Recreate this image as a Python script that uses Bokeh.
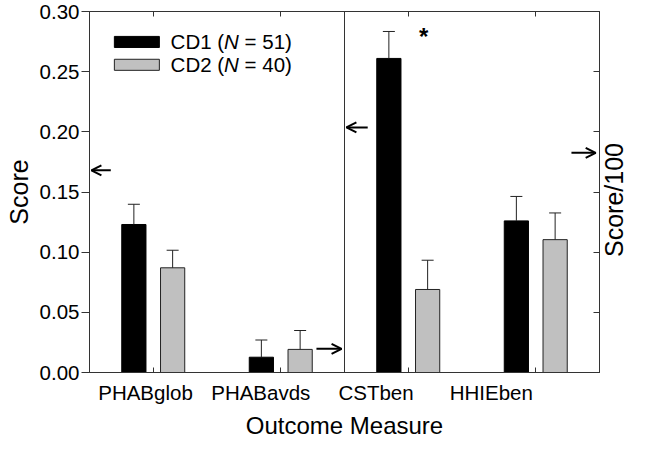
import numpy as np
from bokeh.plotting import figure
from bokeh.models import (Range1d, LinearAxis, FixedTicker, ColumnDataSource, Whisker, TeeHead,
                          Arrow, OpenHead, Span, NumeralTickFormatter, CustomJSTickFormatter)
from bokeh.core.properties import value
from bokeh.embed import file_html
from bokeh.resources import INLINE

# ---------------- data ----------------
categories = ["PHABglob", "PHABavds", "CSTben", "HHIEben"]
cat_pos = [1, 2, 3, 4]
series_names = ["CD1", "CD2"]
series_n = [51, 40]
cd1_mean = [0.123, 0.0127, 0.261, 0.126]
cd1_err = [0.0168, 0.0143, 0.0224, 0.0203]
cd2_mean = [0.087, 0.0192, 0.069, 0.1104]
cd2_err = [0.0146, 0.0157, 0.0243, 0.0222]
y_ticks = [0.0, 0.05, 0.10, 0.15, 0.20, 0.25, 0.30]
right_title = "Score/100"
right_title_y = 0.096

# reference-value arrows: level, start x, end x
arrow_level = [0.168, 0.0197, 0.2037, 0.1826]
arrow_x_start = [0.667, 2.28, 2.682, 4.28]
arrow_x_end = [0.515, 2.477, 2.515, 4.47]

# significance marker
star_x = [3.12]
star_y = [0.279]
star_text = ["*"]

# ---------------- style ----------------
FONT = "Liberation Sans"
AX = "#333333"
GRAY = "#c0c0c0"
BAR_W = 0.19
OFF = 0.152

x1 = [c - OFF for c in cat_pos]
x2 = [c + OFF for c in cat_pos]
src = ColumnDataSource(dict(
    x1=x1, x2=x2,
    cd1=cd1_mean, cd1_up=[m + e for m, e in zip(cd1_mean, cd1_err)],
    cd2=cd2_mean, cd2_up=[m + e for m, e in zip(cd2_mean, cd2_err)],
))

p = figure(width=645, height=441, x_range=Range1d(0.5, 4.5), y_range=Range1d(0, 0.30),
           output_backend="svg", toolbar_location=None, x_axis_location=None,
           y_axis_location="left",
           min_border_left=89, min_border_right=0, min_border_top=11, min_border_bottom=0)
p.grid.visible = False
p.outline_line_color = AX
p.outline_line_width = 1
p.background_fill_color = "white"
p.border_fill_color = "white"

# left axis
ya = p.yaxis[0]
ya.ticker = FixedTicker(ticks=y_ticks)
ya.formatter = NumeralTickFormatter(format="0.00")
ya.major_tick_out = 8
ya.major_tick_in = 0
ya.minor_tick_line_color = None
ya.major_tick_line_color = AX
ya.axis_line_color = AX
ya.major_label_text_font = FONT
ya.major_label_text_font_size = "20.5px"
ya.major_label_text_color = "black"
ya.major_label_standoff = 2
ya.axis_label = "Score"
ya.axis_label_text_font = FONT
ya.axis_label_text_font_size = "25px"
ya.axis_label_text_font_style = "normal"
ya.axis_label_text_color = "black"
ya.axis_label_standoff = 4


def tick_only_axis(ticks, length, **kw):
    return LinearAxis(ticker=FixedTicker(ticks=[], minor_ticks=ticks),
                      minor_tick_in=length, minor_tick_out=0, minor_tick_line_color=AX,
                      major_tick_line_color=None, major_label_standoff=0,
                      axis_line_color=AX, **kw)


# right axis: inward ticks; its single (untick-marked) label is the title, read bottom-to-top
ra = LinearAxis(ticker=FixedTicker(ticks=[right_title_y], minor_ticks=y_ticks),
                formatter=CustomJSTickFormatter(args=dict(t=right_title), code="return t"),
                minor_tick_in=6, minor_tick_out=0, minor_tick_line_color=AX,
                major_tick_in=0, major_tick_out=0, major_tick_line_color=None,
                axis_line_color=AX, major_label_standoff=15,
                major_label_orientation=np.pi / 2,
                major_label_text_font=FONT, major_label_text_font_size="25px",
                major_label_text_color="black")
p.add_layout(ra, "right")

# top axis: inward ticks at categories
p.add_layout(tick_only_axis(cat_pos, 5), "above")

# bottom axis: inward ticks at categories
p.add_layout(tick_only_axis(cat_pos, 5), "below")

# category labels on their own (offset) range, plus the x title
p.extra_x_ranges = {"lab": Range1d(0.514, 4.939)}
la = LinearAxis(x_range_name="lab", ticker=FixedTicker(ticks=cat_pos),
                major_label_overrides={c: n for c, n in zip(cat_pos, categories)},
                major_tick_in=0, major_tick_out=0, minor_tick_line_color=None,
                major_tick_line_color=None,
                axis_line_color=None, major_label_standoff=8,
                major_label_text_font=FONT, major_label_text_font_size="20.5px",
                major_label_text_color="black",
                axis_label="Outcome Measure", axis_label_text_font=FONT,
                axis_label_text_font_size="24px", axis_label_text_font_style="normal",
                axis_label_text_color="black", axis_label_standoff=5)
p.add_layout(la, "below")

# divider
p.add_layout(Span(location=2.5, dimension="height", line_color=AX, line_width=1))

# bars
p.vbar(x="x1", top="cd1", width=BAR_W, source=src, fill_color="black", line_color="black", line_width=1)
p.vbar(x="x2", top="cd2", width=BAR_W, source=src, fill_color=GRAY, line_color="#222222", line_width=1)

# error bars (upper only)
for lo, up, xc in [("cd1", "cd1_up", "x1"), ("cd2", "cd2_up", "x2")]:
    p.add_layout(Whisker(base=xc, lower=lo, upper=up, source=src, dimension="height",
                         line_color="#222222", line_width=1,
                         upper_head=TeeHead(size=12, line_color="#222222", line_width=1),
                         lower_head=None, level="overlay"))

# arrows
for v, xs, xe in zip(arrow_level, arrow_x_start, arrow_x_end):
    p.add_layout(Arrow(end=OpenHead(size=10, line_width=2, line_color="black"),
                       x_start=xs, y_start=v, x_end=xe, y_end=v,
                       line_width=2, line_color="black"))

# asterisk
p.text(x=star_x, y=star_y, text=star_text, text_font=value(FONT), text_font_size="24px",
       text_font_style="bold", text_align="center", text_baseline="middle", text_color="black")

# legend (manual, with italic N)
leg_left, leg_right = 0.695, 1.048
leg_yc = [0.2747, 0.2557]
leg_h = 0.0092
p.quad(left=[leg_left] * 2, right=[leg_right] * 2,
       bottom=[y - leg_h / 2 for y in leg_yc], top=[y + leg_h / 2 for y in leg_yc],
       fill_color=["black", GRAY], line_color=["black", "#222222"], line_width=1)
tx = 1.136
common = dict(text_font=value(FONT), text_font_size="20.5px", text_baseline="middle",
              text_align="left", text_color="black")
p.text(x=[tx] * 2, y=leg_yc, text=[f"{s} (" for s in series_names], **common)
p.text(x=[tx] * 2, y=leg_yc, text=["N"] * 2, x_offset=53.5, text_font_style="italic", **common)
p.text(x=[tx] * 2, y=leg_yc, text=[f"= {n})" for n in series_n], x_offset=74.0, **common)

open("out.html", "w").write(file_html(p, INLINE))
